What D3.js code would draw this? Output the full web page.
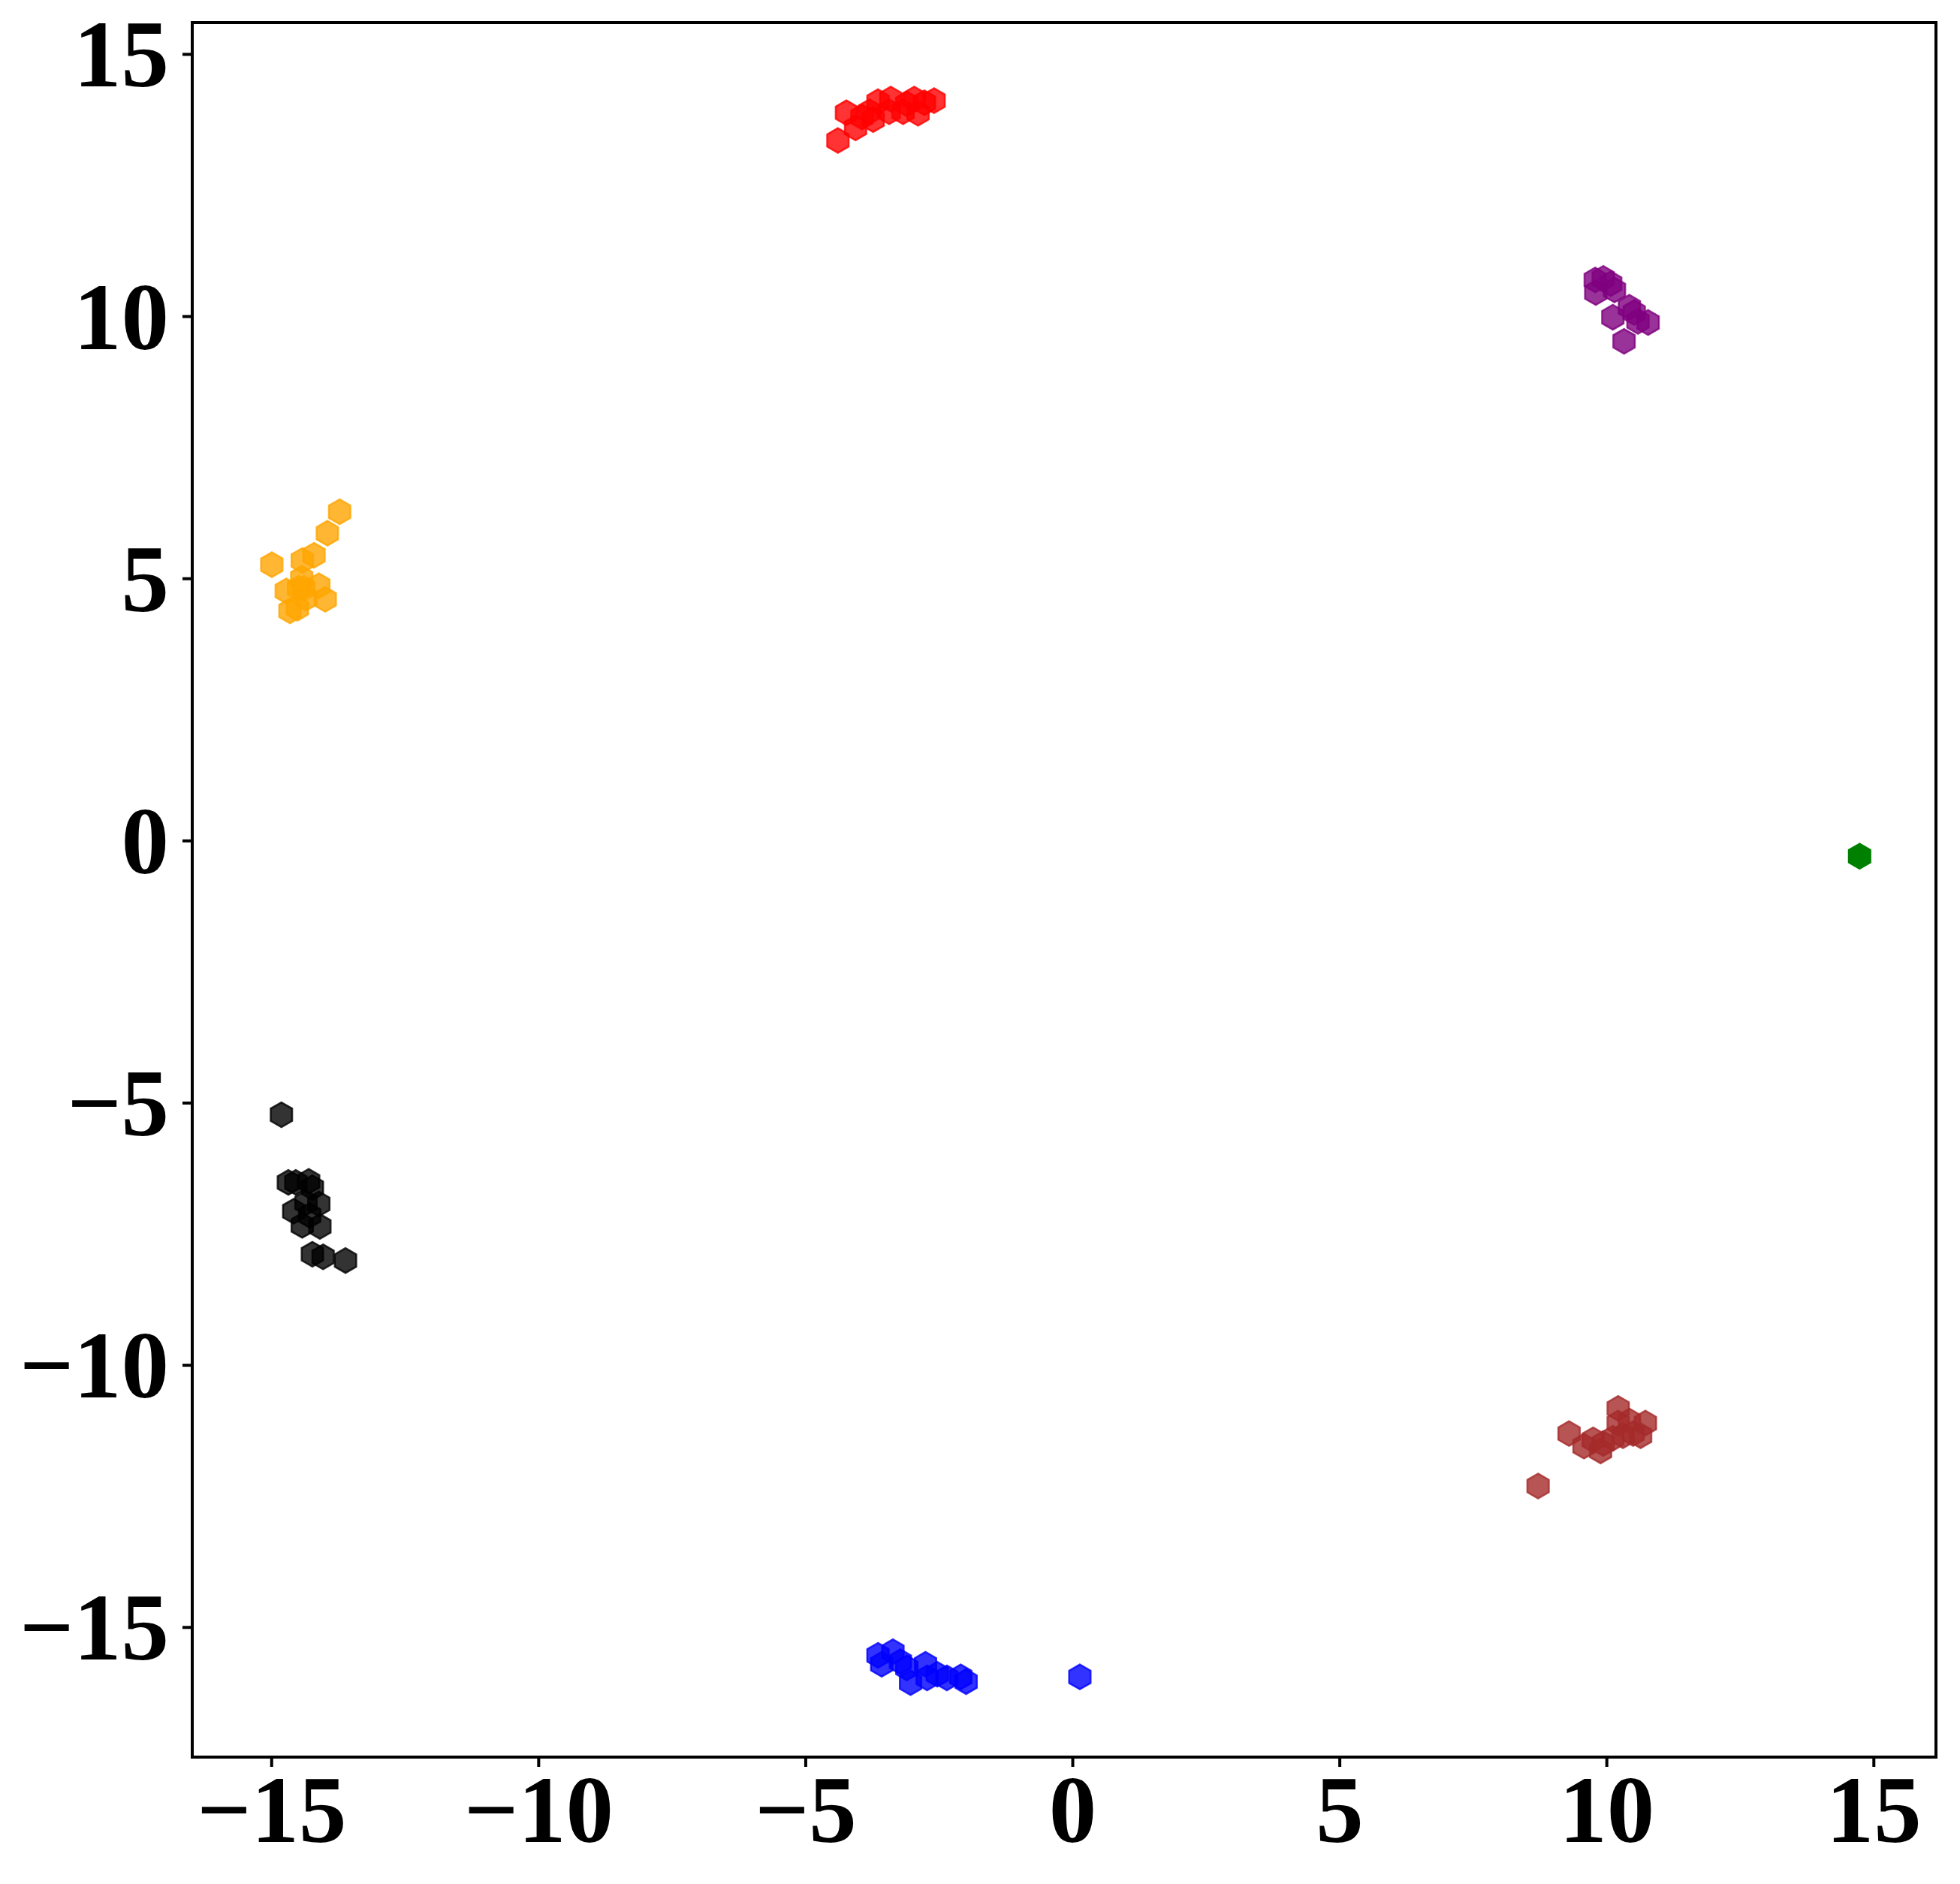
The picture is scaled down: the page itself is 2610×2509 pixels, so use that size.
<!DOCTYPE html>
<html><head><meta charset="utf-8">
<script src="https://cdn.jsdelivr.net/npm/d3@7"></script>
<style>html,body{margin:0;padding:0;background:#fff;}</style>
</head><body>
<script>
// ---- data ----
const redPts = [[-4.39,13.35],[-4.23,13.88],[-4.06,13.59],[-3.94,13.80],[-3.80,13.90],[-3.73,13.75],[-3.64,14.09],[-3.43,13.90],[-3.40,14.14],[-3.17,13.90],[-3.10,14.05],[-2.96,14.14],[-2.89,13.87],[-2.77,14.07],[-2.59,14.11]];
const purplePts = [[9.79,10.69],[9.94,10.72],[10.08,10.62],[10.15,10.50],[9.80,10.45],[10.12,9.98],[10.43,10.17],[10.52,10.07],[10.59,9.90],[10.78,9.88],[10.33,9.52]];
const orangePts = [[-13.72,6.27],[-13.95,5.86],[-14.99,5.26],[-14.42,5.34],[-14.20,5.44],[-14.72,4.76],[-14.49,4.81],[-14.11,4.86],[-13.99,4.60],[-14.65,4.38],[-14.51,4.43],[-14.39,4.81],[-14.35,4.62],[-14.43,5.00]];
const blackPts = [[-14.81,-5.23],[-14.68,-6.52],[-14.54,-6.52],[-14.30,-6.50],[-14.23,-6.62],[-14.11,-6.93],[-14.58,-7.07],[-14.42,-7.34],[-14.28,-7.15],[-14.09,-7.36],[-14.35,-6.91],[-14.23,-7.89],[-14.03,-7.94],[-13.61,-8.01]];
const brownPts = [[8.72,-12.31],[9.30,-11.31],[9.58,-11.55],[9.75,-11.43],[9.89,-11.64],[9.94,-11.50],[10.22,-10.83],[10.22,-11.11],[10.31,-11.35],[10.43,-11.07],[10.50,-11.31],[10.64,-11.35],[10.73,-11.11],[10.12,-11.40]];
const bluePts = [[-3.64,-15.54],[-3.57,-15.71],[-3.36,-15.47],[-3.22,-15.66],[-3.10,-15.78],[-3.03,-16.06],[-2.75,-15.71],[-2.72,-15.97],[-2.53,-15.90],[-2.35,-15.97],[-2.09,-15.95],[-1.99,-16.04],[0.14,-15.95]];
const greenPts = [[14.74,-0.30]];

const seriesNames = ["red","purple","orange","black","brown","blue","green"];
const seriesColors = ["#ff0000","#800080","#ffa500","#000000","#a52a2a","#0000ff","#008000"];
const seriesAlpha = [0.8,0.8,0.8,0.8,0.8,0.8,1.0];
const seriesPoints = [redPts,purplePts,orangePts,blackPts,brownPts,bluePts,greenPts];

const xTicks = [-15,-10,-5,0,5,10,15];
const yTicks = [-15,-10,-5,0,5,10,15];
const xDomain = [-16.48, 16.17];
const yDomain = [-17.48, 15.60];

// ---- layout ----
const W = 2610, H = 2509;
const L = 256, R = 2578, T = 30, B = 2340;

const svg = d3.select("body").append("svg").attr("width", W).attr("height", H)
  .style("display","block");

const x = d3.scaleLinear().domain(xDomain).range([L, R]);
const y = d3.scaleLinear().domain(yDomain).range([B, T]);

// hexagon (pointy top), like matplotlib 'h'
const r = 16.5;
const hex = d3.range(6).map(i => {
  const a = Math.PI/2 + i*Math.PI/3;
  return [r*Math.cos(a), -r*Math.sin(a)];
});
const hexPath = "M" + hex.map(p => p.join(",")).join("L") + "Z";

const plot = svg.append("g");
seriesPoints.forEach((pts, si) => {
  plot.append("g").selectAll("path").data(pts).enter().append("path")
    .attr("d", hexPath)
    .attr("transform", d => `translate(${x(d[0])},${y(d[1])})`)
    .attr("fill", seriesColors[si])
    .attr("fill-opacity", seriesAlpha[si])
    .attr("stroke", seriesColors[si])
    .attr("stroke-opacity", seriesAlpha[si])
    .attr("stroke-width", 2.5);
});

// axes
const font = "'Liberation Serif','Times New Roman',serif";
const fmt = d => d < 0 ? "\u2212" + Math.abs(d) : String(d);

const xAxis = d3.axisBottom(x).tickValues(xTicks).tickFormat(fmt).tickSizeInner(13).tickSizeOuter(0).tickPadding(14);
const yAxis = d3.axisLeft(y).tickValues(yTicks).tickFormat(fmt).tickSizeInner(13).tickSizeOuter(0).tickPadding(18);

const gx = svg.append("g").attr("transform", `translate(0,${B})`).call(xAxis);
const gy = svg.append("g").attr("transform", `translate(${L},0)`).call(yAxis);
[gx, gy].forEach(g => {
  g.select(".domain").remove();
  g.selectAll(".tick line").attr("stroke", "#000").attr("stroke-width", 4);
  g.selectAll(".tick text").attr("fill", "#000")
    .style("font-family", font).style("font-weight", "bold").style("font-size", "127px");
});
gx.selectAll(".tick text").attr("dy", null).attr("y", 113);
gy.selectAll(".tick text").attr("dy", null).attr("y", 43);

// frame
svg.append("rect").attr("x", L).attr("y", T).attr("width", R-L).attr("height", B-T)
  .attr("fill", "none").attr("stroke", "#000").attr("stroke-width", 4);
</script>
</body></html>
